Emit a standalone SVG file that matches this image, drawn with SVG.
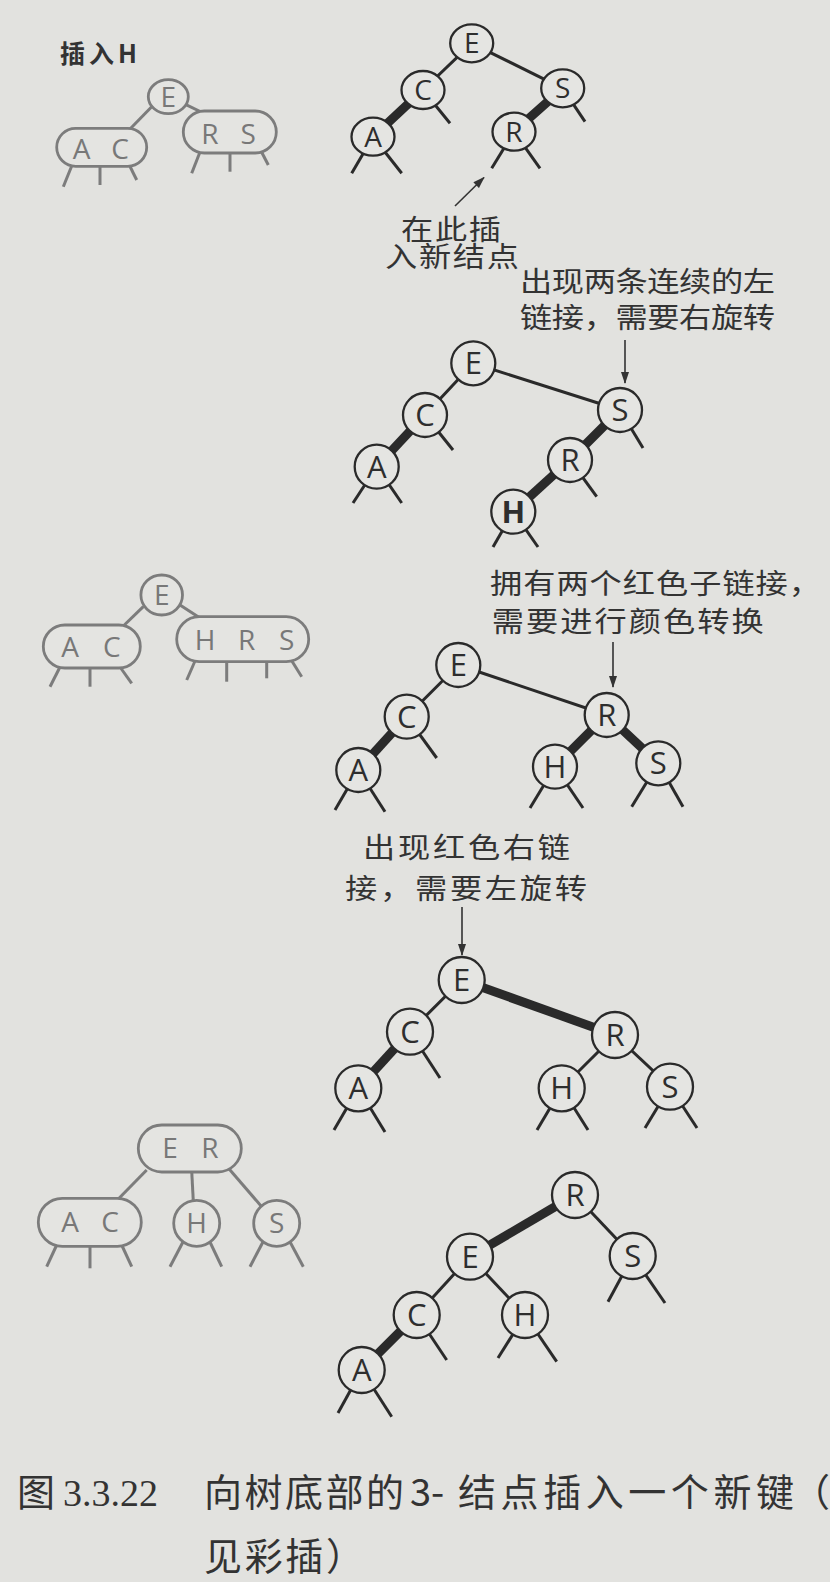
<svg xmlns="http://www.w3.org/2000/svg" width="830" height="1582" viewBox="0 0 830 1582">
<defs>
<style>
.bg{fill:#e2e2df}
.n circle,.n ellipse{fill:#e5e5e2;stroke:#2a2a2a;stroke-width:2.3}
.n text{font-family:"Open Sans","DejaVu Sans",sans-serif;font-size:31px;fill:#2e2e2e;text-anchor:middle}
.t1 text{font-size:28px}
.e{stroke:#2a2a2a;stroke-width:3;fill:none}
.h{stroke:#2a2a2a;stroke-width:9;fill:none}
.ar{stroke:#333;stroke-width:1.6;fill:none;marker-end:url(#ah)}
.lbl{font-family:"Noto Sans CJK SC","Noto Sans CJK JP",sans-serif;font-size:28px;fill:#333}
.g rect,.g circle,.g ellipse{fill:#e4e4e1;stroke:#7c7c7c;stroke-width:2.8}
.g text{font-family:"Open Sans","DejaVu Sans",sans-serif;font-size:28px;fill:#787878;text-anchor:middle}
.ge{stroke:#7c7c7c;stroke-width:3;fill:none}
.cap{font-family:"Noto Sans CJK SC","Noto Sans CJK JP",sans-serif;font-size:38px;fill:#333}
.capn{font-family:"Liberation Serif",serif;font-size:38px;fill:#333}
</style>
<marker id="ah" markerUnits="userSpaceOnUse" markerWidth="12" markerHeight="8" refX="11" refY="4" orient="auto">
<path d="M0,0 L12,4 L0,8 z" fill="#333"/>
</marker>
</defs>
<rect class="bg" x="0" y="0" width="830" height="1582"/>

<!-- connectors -->
<g id="connectors">
<!-- gray 2-3 tree 1 -->
<line class="ge" x1="151.7" y1="106.7" x2="130" y2="129"/>
<line class="ge" x1="183.3" y1="103.3" x2="203.3" y2="113"/>
<line class="ge" x1="71.7" y1="166" x2="63.3" y2="186.7"/>
<line class="ge" x1="100" y1="166" x2="100" y2="185"/>
<line class="ge" x1="128.3" y1="163" x2="136.7" y2="180"/>
<line class="ge" x1="200" y1="152" x2="191.7" y2="173.3"/>
<line class="ge" x1="230" y1="153" x2="230" y2="171.7"/>
<line class="ge" x1="260" y1="149" x2="268.3" y2="165"/>
<!-- gray 2-3 tree 2 -->
<line class="ge" x1="143.3" y1="606.7" x2="123.3" y2="626"/>
<line class="ge" x1="180" y1="605" x2="200" y2="618"/>
<line class="ge" x1="60" y1="667" x2="50" y2="686.7"/>
<line class="ge" x1="90" y1="668" x2="90" y2="686.7"/>
<line class="ge" x1="120" y1="667" x2="131.7" y2="683.3"/>
<line class="ge" x1="195" y1="661" x2="186.7" y2="680"/>
<line class="ge" x1="226.7" y1="661" x2="226.7" y2="681.7"/>
<line class="ge" x1="266.7" y1="661" x2="266.7" y2="678.3"/>
<line class="ge" x1="290" y1="658" x2="301.7" y2="676.7"/>
<!-- gray 2-3 tree 3 -->
<line class="ge" x1="146.7" y1="1170" x2="118.3" y2="1199"/>
<line class="ge" x1="191.7" y1="1171" x2="193.3" y2="1201"/>
<line class="ge" x1="228.3" y1="1168" x2="261.7" y2="1206.7"/>
<line class="ge" x1="56.7" y1="1245" x2="46.7" y2="1266.7"/>
<line class="ge" x1="90" y1="1246" x2="90" y2="1268.3"/>
<line class="ge" x1="121.7" y1="1245" x2="131.7" y2="1266.7"/>
<line class="ge" x1="184" y1="1240" x2="170" y2="1266.7"/>
<line class="ge" x1="209" y1="1240" x2="221.7" y2="1266.7"/>
<line class="ge" x1="264" y1="1240" x2="250" y2="1266.7"/>
<line class="ge" x1="289" y1="1240" x2="303.3" y2="1266.7"/>

<!-- RB tree 1 -->
<line class="e" x1="471.7" y1="43.3" x2="423" y2="90"/>
<line class="e" x1="471.7" y1="43.3" x2="562.7" y2="88.3"/>
<line class="h" x1="423" y1="90" x2="373" y2="136.7"/>
<line class="h" x1="562.7" y1="88.3" x2="514" y2="131.7"/>
<line class="e" x1="373" y1="136.7" x2="351.7" y2="173.3"/>
<line class="e" x1="373" y1="136.7" x2="401.7" y2="173.3"/>
<line class="e" x1="423" y1="90" x2="450" y2="123.3"/>
<line class="e" x1="562.7" y1="88.3" x2="585" y2="121.7"/>
<line class="e" x1="514" y1="131.7" x2="491.7" y2="168.3"/>
<line class="e" x1="514" y1="131.7" x2="540" y2="168.3"/>
<line class="ar" x1="455" y1="206" x2="484" y2="177.5"/>

<!-- RB tree 2 -->
<line class="e" x1="473.3" y1="363.3" x2="425" y2="415"/>
<line class="e" x1="473.3" y1="363.3" x2="620" y2="410"/>
<line class="h" x1="425" y1="415" x2="376.7" y2="466.7"/>
<line class="h" x1="620" y1="410" x2="570" y2="460"/>
<line class="h" x1="570" y1="460" x2="513.3" y2="511.7"/>
<line class="e" x1="376.7" y1="466.7" x2="353" y2="503"/>
<line class="e" x1="376.7" y1="466.7" x2="401.7" y2="503"/>
<line class="e" x1="425" y1="415" x2="453" y2="450"/>
<line class="e" x1="620" y1="410" x2="643" y2="448"/>
<line class="e" x1="570" y1="460" x2="596.7" y2="496.7"/>
<line class="e" x1="513.3" y1="511.7" x2="493" y2="547"/>
<line class="e" x1="513.3" y1="511.7" x2="538" y2="547"/>
<line class="ar" x1="625" y1="340" x2="625" y2="383"/>

<!-- RB tree 3 -->
<line class="e" x1="458.3" y1="665" x2="406.7" y2="716.7"/>
<line class="e" x1="458.3" y1="665" x2="606.7" y2="715"/>
<line class="h" x1="406.7" y1="716.7" x2="358.3" y2="770"/>
<line class="h" x1="606.7" y1="715" x2="555" y2="766.7"/>
<line class="h" x1="606.7" y1="715" x2="658.3" y2="763.3"/>
<line class="e" x1="358.3" y1="770" x2="335" y2="810"/>
<line class="e" x1="358.3" y1="770" x2="385" y2="811.7"/>
<line class="e" x1="406.7" y1="716.7" x2="436.7" y2="758"/>
<line class="e" x1="555" y1="766.7" x2="530" y2="808"/>
<line class="e" x1="555" y1="766.7" x2="583" y2="808"/>
<line class="e" x1="658.3" y1="763.3" x2="631.7" y2="806.7"/>
<line class="e" x1="658.3" y1="763.3" x2="683" y2="806.7"/>
<line class="ar" x1="613" y1="642" x2="613" y2="687"/>

<!-- RB tree 4 -->
<line class="e" x1="461.7" y1="980" x2="410" y2="1031.7"/>
<line class="h" x1="461.7" y1="980" x2="615" y2="1035"/>
<line class="h" x1="410" y1="1031.7" x2="358.3" y2="1088.3"/>
<line class="e" x1="615" y1="1035" x2="561.7" y2="1088.3"/>
<line class="e" x1="615" y1="1035" x2="670" y2="1086.7"/>
<line class="e" x1="358.3" y1="1088.3" x2="334" y2="1130"/>
<line class="e" x1="358.3" y1="1088.3" x2="385" y2="1132"/>
<line class="e" x1="410" y1="1031.7" x2="440" y2="1078"/>
<line class="e" x1="561.7" y1="1088.3" x2="537" y2="1130"/>
<line class="e" x1="561.7" y1="1088.3" x2="588" y2="1130"/>
<line class="e" x1="670" y1="1086.7" x2="645" y2="1128"/>
<line class="e" x1="670" y1="1086.7" x2="697" y2="1128"/>
<line class="ar" x1="462" y1="907" x2="462" y2="955"/>

<!-- RB tree 5 -->
<line class="h" x1="575" y1="1195" x2="470" y2="1256.7"/>
<line class="e" x1="575" y1="1195" x2="632.7" y2="1256"/>
<line class="e" x1="470" y1="1256.7" x2="416.7" y2="1315"/>
<line class="e" x1="470" y1="1256.7" x2="525" y2="1315"/>
<line class="h" x1="416.7" y1="1315" x2="361.7" y2="1370"/>
<line class="e" x1="632.7" y1="1256" x2="608" y2="1301.7"/>
<line class="e" x1="632.7" y1="1256" x2="665" y2="1303"/>
<line class="e" x1="525" y1="1315" x2="498" y2="1358"/>
<line class="e" x1="525" y1="1315" x2="556.7" y2="1361.7"/>
<line class="e" x1="416.7" y1="1315" x2="446.7" y2="1360"/>
<line class="e" x1="361.7" y1="1370" x2="338" y2="1413"/>
<line class="e" x1="361.7" y1="1370" x2="391.7" y2="1416.7"/>
</g>

<!-- gray 2-3 tree nodes -->
<g id="g1-E" class="g"><ellipse cx="168.3" cy="96.7" rx="20" ry="17"/><text x="168.3" y="106.5">E</text></g>
<g id="g1-AC" class="g"><rect x="56.7" y="128.3" width="90" height="38" rx="19"/><text x="81.7" y="159">A</text><text x="120" y="159">C</text></g>
<g id="g1-RS" class="g"><rect x="183.3" y="111" width="93" height="42" rx="21"/><text x="210" y="144">R</text><text x="248.3" y="144">S</text></g>

<g id="g2-E" class="g"><ellipse cx="161.7" cy="595" rx="20.8" ry="20"/><text x="161.7" y="605">E</text></g>
<g id="g2-AC" class="g"><rect x="43.3" y="625" width="97" height="43" rx="21.5"/><text x="70" y="656.5">A</text><text x="111.7" y="656.5">C</text></g>
<g id="g2-HRS" class="g"><rect x="176.7" y="616.7" width="132" height="45" rx="22.5"/><text x="205" y="649.5">H</text><text x="246.7" y="649.5">R</text><text x="286.7" y="649.5">S</text></g>

<g id="g3-ER" class="g"><rect x="138.3" y="1125" width="103" height="47" rx="23.5"/><text x="170" y="1158">E</text><text x="210" y="1158">R</text></g>
<g id="g3-AC" class="g"><rect x="38.3" y="1198.3" width="103" height="48" rx="24"/><text x="70" y="1232">A</text><text x="110" y="1232">C</text></g>
<g id="g3-H" class="g"><circle cx="196.7" cy="1223.3" r="23"/><text x="196.7" y="1233">H</text></g>
<g id="g3-S" class="g"><circle cx="276.7" cy="1223.3" r="23"/><text x="276.7" y="1233">S</text></g>

<!-- RB tree 1 nodes -->
<g id="t1-E" class="n t1"><ellipse cx="471.7" cy="43.3" rx="21.5" ry="19"/><text x="471.7" y="53.3">E</text></g>
<g id="t1-C" class="n t1"><ellipse cx="423" cy="90" rx="21.5" ry="19"/><text x="423" y="100">C</text></g>
<g id="t1-S" class="n t1"><ellipse cx="562.7" cy="88.3" rx="21.5" ry="19"/><text x="562.7" y="98.3">S</text></g>
<g id="t1-A" class="n t1"><ellipse cx="373" cy="136.7" rx="21.5" ry="19"/><text x="373" y="146.7">A</text></g>
<g id="t1-R" class="n t1"><ellipse cx="514" cy="131.7" rx="21.5" ry="19"/><text x="514" y="141.7">R</text></g>

<!-- RB tree 2 nodes -->
<g id="t2-E" class="n"><circle cx="473.3" cy="363.3" r="22"/><text x="473.3" y="374.3">E</text></g>
<g id="t2-C" class="n"><circle cx="425" cy="415" r="22"/><text x="425" y="426">C</text></g>
<g id="t2-A" class="n"><circle cx="376.7" cy="466.7" r="22"/><text x="376.7" y="477.7">A</text></g>
<g id="t2-S" class="n"><circle cx="620" cy="410" r="22"/><text x="620" y="421">S</text></g>
<g id="t2-R" class="n"><circle cx="570" cy="460" r="22"/><text x="570" y="471">R</text></g>
<g id="t2-H" class="n"><circle cx="513.3" cy="511.7" r="22"/><text x="513.3" y="522.7" font-weight="bold">H</text></g>

<!-- RB tree 3 nodes -->
<g id="t3-E" class="n"><circle cx="458.3" cy="665" r="22"/><text x="458.3" y="676">E</text></g>
<g id="t3-C" class="n"><circle cx="406.7" cy="716.7" r="22"/><text x="406.7" y="727.7">C</text></g>
<g id="t3-A" class="n"><circle cx="358.3" cy="770" r="22"/><text x="358.3" y="781">A</text></g>
<g id="t3-R" class="n"><circle cx="606.7" cy="715" r="22"/><text x="606.7" y="726">R</text></g>
<g id="t3-H" class="n"><circle cx="555" cy="766.7" r="22"/><text x="555" y="777.7">H</text></g>
<g id="t3-S" class="n"><circle cx="658.3" cy="763.3" r="22"/><text x="658.3" y="774.3">S</text></g>

<!-- RB tree 4 nodes -->
<g id="t4-E" class="n"><circle cx="461.7" cy="980" r="23"/><text x="461.7" y="991">E</text></g>
<g id="t4-C" class="n"><circle cx="410" cy="1031.7" r="23"/><text x="410" y="1042.7">C</text></g>
<g id="t4-A" class="n"><circle cx="358.3" cy="1088.3" r="23"/><text x="358.3" y="1099.3">A</text></g>
<g id="t4-R" class="n"><circle cx="615" cy="1035" r="23"/><text x="615" y="1046">R</text></g>
<g id="t4-H" class="n"><circle cx="561.7" cy="1088.3" r="23"/><text x="561.7" y="1099.3">H</text></g>
<g id="t4-S" class="n"><circle cx="670" cy="1086.7" r="23"/><text x="670" y="1097.7">S</text></g>

<!-- RB tree 5 nodes -->
<g id="t5-R" class="n"><circle cx="575" cy="1195" r="23"/><text x="575" y="1206">R</text></g>
<g id="t5-S" class="n"><circle cx="632.7" cy="1256" r="23"/><text x="632.7" y="1267">S</text></g>
<g id="t5-E" class="n"><circle cx="470" cy="1256.7" r="23"/><text x="470" y="1267.7">E</text></g>
<g id="t5-C" class="n"><circle cx="416.7" cy="1315" r="23"/><text x="416.7" y="1326">C</text></g>
<g id="t5-H" class="n"><circle cx="525" cy="1315" r="23"/><text x="525" y="1326">H</text></g>
<g id="t5-A" class="n"><circle cx="361.7" cy="1370" r="23"/><text x="361.7" y="1381">A</text></g>

<!-- labels (glyphs widened horizontally as in the photo) -->
<g id="labels">
<text x="60" y="63" font-family="Noto Sans CJK SC, sans-serif" font-size="25" font-weight="bold" fill="#333" textLength="77" lengthAdjust="spacing">插入H</text>
<text class="lbl" transform="translate(401,240) scale(1.15,1)" textLength="87" lengthAdjust="spacing">在此插</text>
<text class="lbl" transform="translate(385,267) scale(1.15,1)" textLength="116.5" lengthAdjust="spacing">入新结点</text>
<text class="lbl" transform="translate(520,292) scale(1.15,1)" textLength="221.7" lengthAdjust="spacing">出现两条连续的左</text>
<text class="lbl" transform="translate(520,328) scale(1.15,1)" textLength="221.7" lengthAdjust="spacing">链接，需要右旋转</text>
<text class="lbl" transform="translate(490,594) scale(1.15,1)" textLength="287.8" lengthAdjust="spacing">拥有两个红色子链接，</text>
<text class="lbl" transform="translate(491.7,632) scale(1.15,1)" textLength="236.5" lengthAdjust="spacing">需要进行颜色转换</text>
<text class="lbl" transform="translate(363,858) scale(1.15,1)" textLength="180" lengthAdjust="spacing">出现红色右链</text>
<text class="lbl" transform="translate(345,899) scale(1.15,1)" textLength="210.4" lengthAdjust="spacing">接，需要左旋转</text>
</g>

<!-- caption -->
<g id="caption">
<text class="cap" x="17" y="1506">图</text>
<text class="capn" x="63" y="1506">3.3.22</text>
<text class="cap" x="204" y="1506" textLength="200" lengthAdjust="spacing">向树底部的</text>
<text class="cap" x="410" y="1506">3-</text>
<text class="cap" x="458" y="1506" textLength="336" lengthAdjust="spacing">结点插入一个新键</text>
<text class="cap" x="792" y="1506">（</text>
<text class="cap" x="204" y="1570" textLength="160" lengthAdjust="spacing">见彩插）</text>
</g>
</svg>
